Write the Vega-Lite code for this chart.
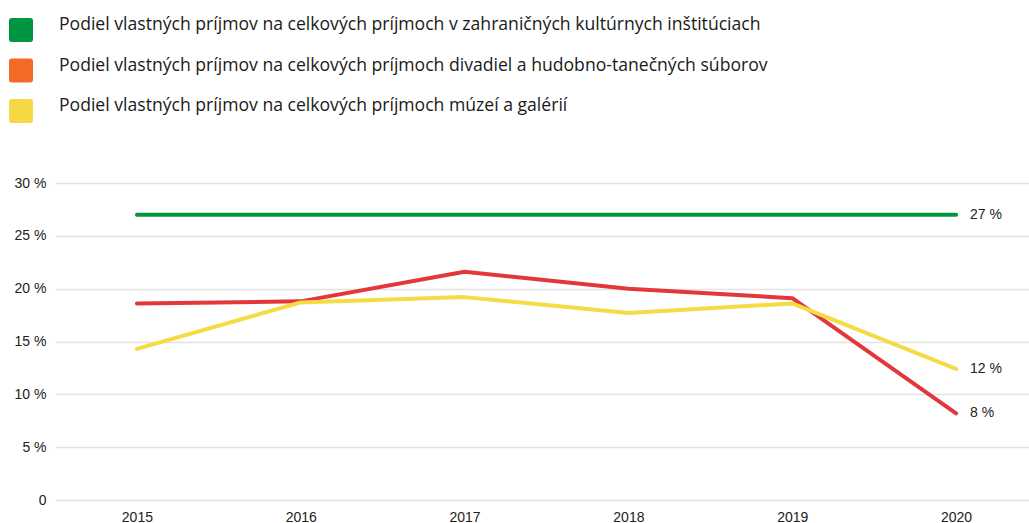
{
  "$schema": "https://vega.github.io/schema/vega-lite/v6.json",
  "width": 983,
  "height": 317,
  "autosize": {"type": "none"},
  "padding": {"left": 55, "top": 183, "right": 0, "bottom": 23},
  "background": "white",
  "config": {
    "view": {"stroke": null},
    "axis": {"labelFont": "Liberation Sans", "labelFontSize": 14, "labelColor": "#222222", "title": null, "ticks": false, "domain": false},
    "legend": {
      "labelFont": "Open Sans", "labelFontSize": 17.6, "labelColor": "#1a1a1a", "labelLimit": 1000, "labelBaseline": "alphabetic",
      "symbolType": "M-0.78,-1L0.78,-1Q1,-1,1,-0.78L1,0.78Q1,1,0.78,1L-0.78,1Q-1,1,-1,0.78L-1,-0.78Q-1,-1,-0.78,-1Z",
      "symbolSize": 576, "symbolStrokeWidth": 0, "symbolOpacity": 1,
      "rowPadding": 14.5, "labelOffset": 26, "padding": 0, "offset": 0
    }
  },
  "data": {
    "values": [
      {"year": "2015", "series": "Podiel vlastných príjmov na celkových príjmoch v zahraničných kultúrnych inštitúciach", "value": 0.27},
      {"year": "2016", "series": "Podiel vlastných príjmov na celkových príjmoch v zahraničných kultúrnych inštitúciach", "value": 0.27},
      {"year": "2017", "series": "Podiel vlastných príjmov na celkových príjmoch v zahraničných kultúrnych inštitúciach", "value": 0.27},
      {"year": "2018", "series": "Podiel vlastných príjmov na celkových príjmoch v zahraničných kultúrnych inštitúciach", "value": 0.27},
      {"year": "2019", "series": "Podiel vlastných príjmov na celkových príjmoch v zahraničných kultúrnych inštitúciach", "value": 0.27},
      {"year": "2020", "series": "Podiel vlastných príjmov na celkových príjmoch v zahraničných kultúrnych inštitúciach", "value": 0.27, "label": "27 %"},
      {"year": "2015", "series": "Podiel vlastných príjmov na celkových príjmoch divadiel a hudobno-tanečných súborov", "value": 0.186},
      {"year": "2016", "series": "Podiel vlastných príjmov na celkových príjmoch divadiel a hudobno-tanečných súborov", "value": 0.188},
      {"year": "2017", "series": "Podiel vlastných príjmov na celkových príjmoch divadiel a hudobno-tanečných súborov", "value": 0.216},
      {"year": "2018", "series": "Podiel vlastných príjmov na celkových príjmoch divadiel a hudobno-tanečných súborov", "value": 0.2},
      {"year": "2019", "series": "Podiel vlastných príjmov na celkových príjmoch divadiel a hudobno-tanečných súborov", "value": 0.191},
      {"year": "2020", "series": "Podiel vlastných príjmov na celkových príjmoch divadiel a hudobno-tanečných súborov", "value": 0.082, "label": "8 %"},
      {"year": "2015", "series": "Podiel vlastných príjmov na celkových príjmoch múzeí a galérií", "value": 0.143},
      {"year": "2016", "series": "Podiel vlastných príjmov na celkových príjmoch múzeí a galérií", "value": 0.187},
      {"year": "2017", "series": "Podiel vlastných príjmov na celkových príjmoch múzeí a galérií", "value": 0.192},
      {"year": "2018", "series": "Podiel vlastných príjmov na celkových príjmoch múzeí a galérií", "value": 0.177},
      {"year": "2019", "series": "Podiel vlastných príjmov na celkových príjmoch múzeí a galérií", "value": 0.186},
      {"year": "2020", "series": "Podiel vlastných príjmov na celkových príjmoch múzeí a galérií", "value": 0.124, "label": "12 %"}
    ]
  },
  "encoding": {
    "x": {"field": "year", "type": "ordinal", "scale": {"type": "point", "padding": 0.5}, "axis": {"labelAngle": 0, "grid": false, "labelPadding": 10}},
    "y": {"field": "value", "type": "quantitative", "scale": {"domain": [0, 0.3], "nice": false, "zero": true},
      "axis": {"values": [0, 0.05, 0.1, 0.15, 0.2, 0.25, 0.3], "labelExpr": "datum.value == 0 ? '0' : format(datum.value * 100, 'd') + ' %'", "gridColor": "#e3e3e3", "gridWidth": 1.5, "labelPadding": 9}}
  },
  "layer": [
    {
      "transform": [{"filter": "false"}],
      "mark": {"type": "square"},
      "encoding": {
        "fill": {"field": "series", "type": "nominal",
          "scale": {"domain": ["Podiel vlastných príjmov na celkových príjmoch v zahraničných kultúrnych inštitúciach", "Podiel vlastných príjmov na celkových príjmoch divadiel a hudobno-tanečných súborov", "Podiel vlastných príjmov na celkových príjmoch múzeí a galérií"], "range": ["#00963f", "#f26a25", "#f6d845"]},
          "legend": {"title": null, "orient": "none", "direction": "vertical", "legendX": -46, "legendY": -165}}
      }
    },
    {
      "mark": {"type": "line", "strokeWidth": 4, "strokeCap": "round", "strokeJoin": "round"},
      "encoding": {
        "stroke": {"field": "series", "type": "nominal",
          "scale": {"domain": ["Podiel vlastných príjmov na celkových príjmoch v zahraničných kultúrnych inštitúciach", "Podiel vlastných príjmov na celkových príjmoch divadiel a hudobno-tanečných súborov", "Podiel vlastných príjmov na celkových príjmoch múzeí a galérií"], "range": ["#00963f", "#e3373b", "#f5dc44"]},
          "legend": null}
      }
    },
    {
      "transform": [{"filter": "datum.year == '2020'"}],
      "mark": {"type": "text", "align": "left", "baseline": "middle", "dx": 14, "font": "Liberation Sans", "fontSize": 14, "color": "#222222"},
      "encoding": {"text": {"field": "label"}}
    }
  ]
}
